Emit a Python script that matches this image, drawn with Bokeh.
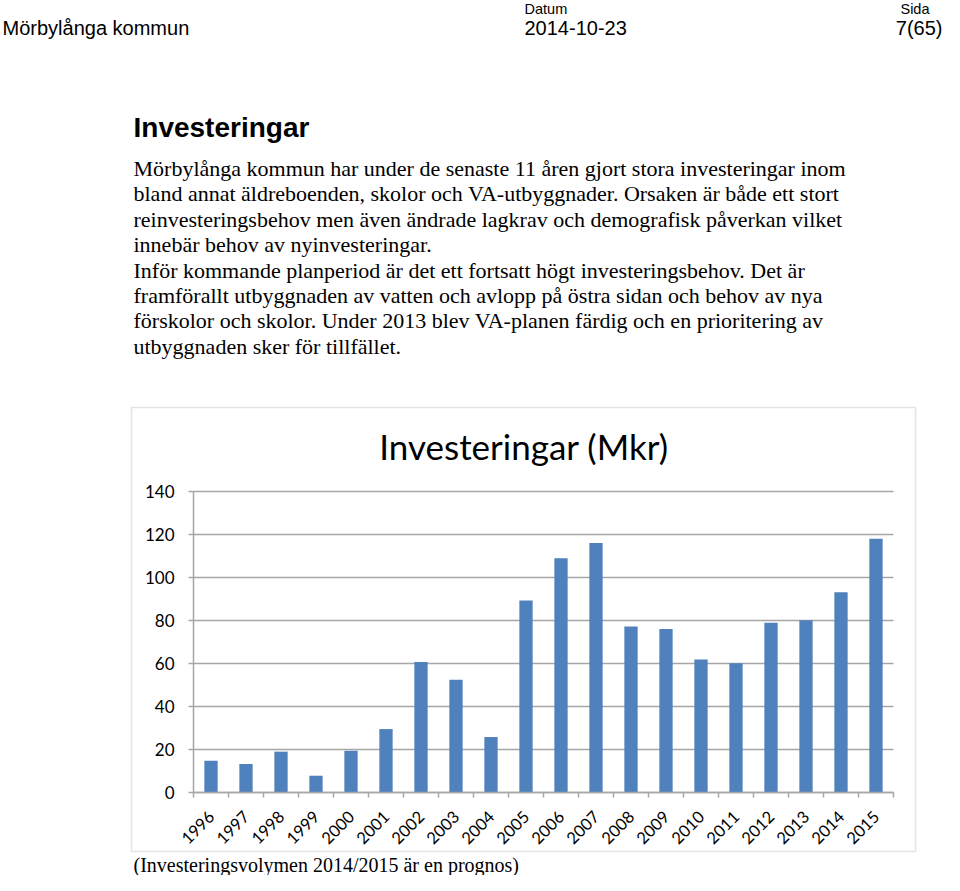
import math
from bokeh.plotting import figure
from bokeh.models import Label, BoxAnnotation, FixedTicker, Range1d, LinearAxis
from bokeh.embed import file_html
from bokeh.resources import INLINE

# ---------------- data ----------------
years = [1996, 1997, 1998, 1999, 2000, 2001, 2002, 2003, 2004, 2005,
         2006, 2007, 2008, 2009, 2010, 2011, 2012, 2013, 2014, 2015]
invest_mkr = [14.8, 13.2, 19.0, 7.8, 19.4, 29.5, 60.7, 52.5, 25.8, 89.3,
              109.0, 116.1, 77.2, 76.1, 61.9, 60.1, 79.0, 80.1, 93.1, 118.0]
y_ticks = [0, 20, 40, 60, 80, 100, 120, 140]
chart_title = "Investeringar (Mkr)"

header_left = "Mörbylånga kommun"
header_date_label = "Datum"
header_date = "2014-10-23"
header_page_label = "Sida"
header_page = "7(65)"
heading = "Investeringar"
paragraph = [
    "Mörbylånga kommun har under de senaste 11 åren gjort stora investeringar inom",
    "bland annat äldreboenden, skolor och VA-utbyggnader. Orsaken är både ett stort",
    "reinvesteringsbehov men även ändrade lagkrav och demografisk påverkan vilket",
    "innebär behov av nyinvesteringar.",
    "Inför kommande planperiod är det ett fortsatt högt investeringsbehov. Det är",
    "framförallt utbyggnaden av vatten och avlopp på östra sidan och behov av nya",
    "förskolor och skolor. Under 2013 blev VA-planen färdig och en prioritering av",
    "utbyggnaden sker för tillfället.",
]
caption = "(Investeringsvolymen 2014/2015 är en prognos)"

# ---------------- layout (picture pixel coordinates) ----------------
W, H = 944, 875
PX0, PX1 = 0, W
PY0, PY1 = 0, H
FRAME_L, FRAME_R = 193, 893            # chart plot area
FRAME_T, FRAME_B = 491, 792
X_LO, X_HI = years[0] - 0.5, years[-1] + 0.5
Y_LO, Y_HI = 0, 140

sx = (FRAME_R - FRAME_L) / (X_HI - X_LO)
sy = (FRAME_B - FRAME_T) / (Y_HI - Y_LO)
chart_x = Range1d(X_LO - (FRAME_L - PX0) / sx, X_HI + (PX1 - FRAME_R) / sx)
chart_y = Range1d(Y_LO - (PY1 - FRAME_B) / sy, Y_HI + (FRAME_T - PY0) / sy)

GRID = "#a6a6a6"
BAR = "#4f81bd"
CAL = "Lato"
ARIAL = "Liberation Sans"
TIMES = "Liberation Serif"

p = figure(width=W, height=H, output_backend="svg", toolbar_location=None,
           x_range=Range1d(PX0, PX1), y_range=Range1d(PY1, PY0),
           x_axis_type=None, y_axis_type=None, min_border=0)
p.outline_line_color = None
p.xgrid.visible = False
p.ygrid.visible = False
p.background_fill_color = "white"
p.border_fill_color = "white"
p.extra_x_ranges = {"chart": chart_x}
p.extra_y_ranges = {"chart": chart_y}

# chart border box
p.add_layout(BoxAnnotation(left=131, right=915, top=407, bottom=851,
                           fill_color=None, line_color=GRID, line_width=1.5))

# horizontal gridlines at the y ticks
p.segment(x0=[X_LO] * len(y_ticks), x1=[X_HI] * len(y_ticks), y0=y_ticks, y1=y_ticks,
          line_color=GRID, line_width=1.5, x_range_name="chart", y_range_name="chart")

# bars
p.vbar(x=years, top=invest_mkr, width=0.38, color=BAR, line_color=None,
       x_range_name="chart", y_range_name="chart")

# y axis
yax = LinearAxis(ticker=FixedTicker(ticks=y_ticks), fixed_location=X_LO,
                 bounds=(Y_LO, Y_HI), x_range_name="chart", y_range_name="chart")
yax.axis_line_color = GRID
yax.axis_line_width = 1.5
yax.major_tick_line_color = GRID
yax.major_tick_line_width = 1.5
yax.major_tick_out = 5
yax.major_tick_in = 0
yax.minor_tick_line_color = None
yax.major_label_text_font = CAL
yax.major_label_text_font_size = "17px"
yax.major_label_text_color = "black"
yax.major_label_standoff = 14
p.add_layout(yax, "left")

# x axis
bounds = [y - 0.5 for y in years] + [years[-1] + 0.5]
xax = LinearAxis(ticker=FixedTicker(ticks=years, minor_ticks=bounds), fixed_location=Y_LO,
                 bounds=(X_LO, X_HI), x_range_name="chart", y_range_name="chart")
xax.axis_line_color = GRID
xax.axis_line_width = 1.5
xax.major_tick_line_color = None
xax.major_tick_out = 0
xax.major_tick_in = 0
xax.minor_tick_line_color = GRID
xax.minor_tick_line_width = 1.5
xax.minor_tick_out = 5
xax.minor_tick_in = 0
xax.major_label_orientation = math.pi / 4
xax.major_label_overrides = {y: str(y) for y in years}
xax.major_label_text_font = CAL
xax.major_label_text_font_size = "16.5px"
xax.major_label_text_color = "black"
xax.major_label_standoff = 16
p.add_layout(xax, "below")


def lab(text, px, py, font, size, align="left", style="normal"):
    p.add_layout(Label(x=px, y=py, text=text, text_font=font, text_font_size=size,
                       text_align=align, text_baseline="middle",
                       text_font_style=style, text_color="black"))


lab(chart_title, 523.5, 445, CAL, "35px", align="center")

# document text
lab(header_left, 2, 27, ARIAL, "20px")
lab(header_date_label, 524, 8, ARIAL, "14.5px")
lab(header_date, 524, 27, ARIAL, "20px")
lab(header_page_label, 929, 8, ARIAL, "14.5px", align="right")
lab(header_page, 942, 27, ARIAL, "20px", align="right")
lab(heading, 133, 127, ARIAL, "28px", style="bold")
for i, line in enumerate(paragraph):
    lab(line, 133, 168 + i * 25.4, TIMES, "22px")
lab(caption, 133, 864, TIMES, "20px")

open("out.html", "w").write(file_html(p, INLINE))
